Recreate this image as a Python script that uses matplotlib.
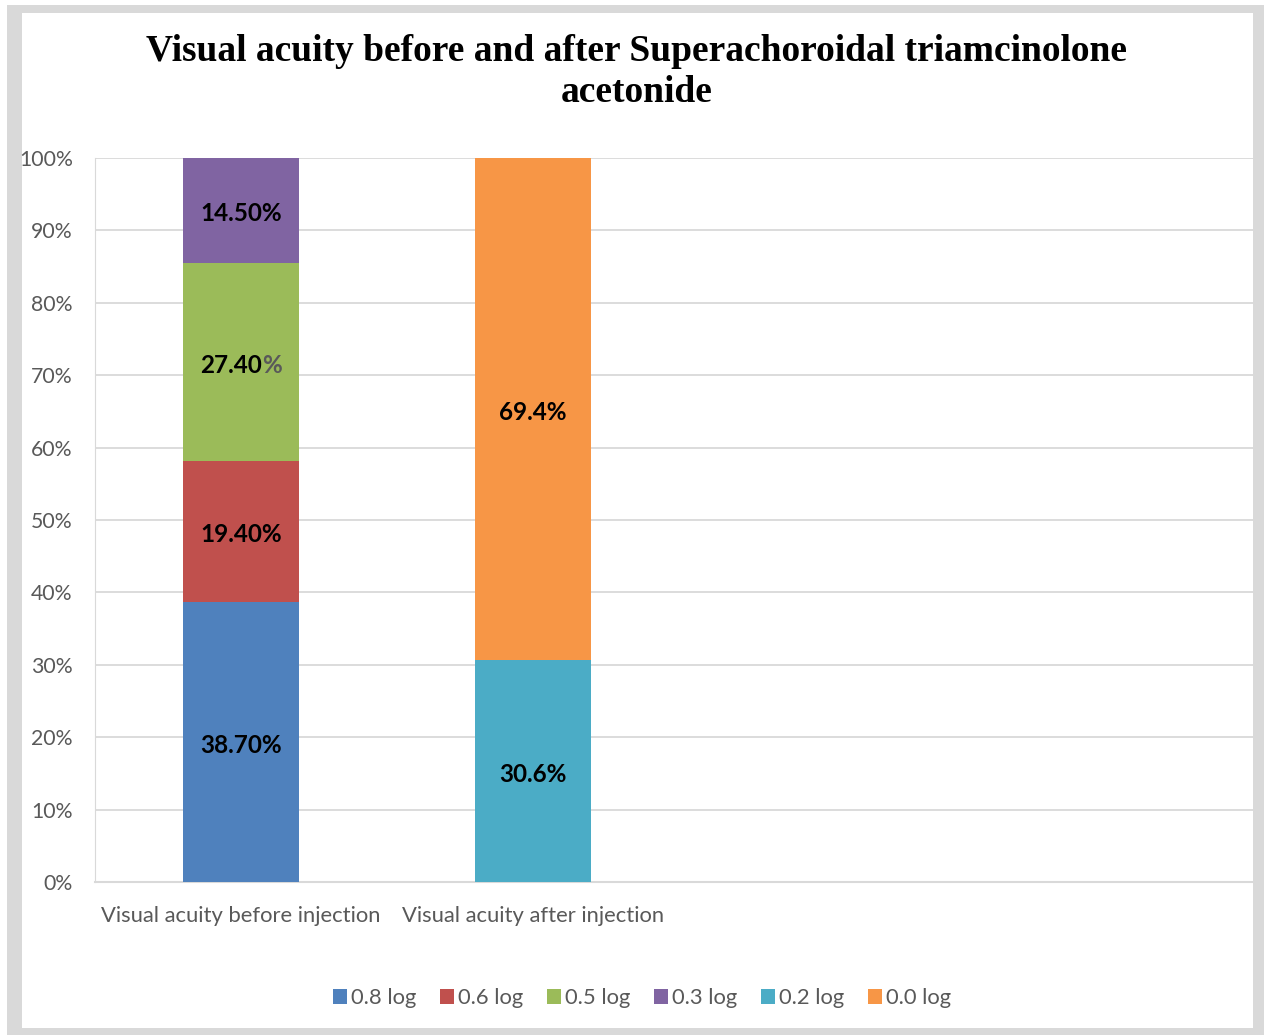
import matplotlib
matplotlib.use("Agg")
import matplotlib.pyplot as plt
from matplotlib.patches import Rectangle
from matplotlib.ticker import PercentFormatter

# data
categories = ["Visual acuity before injection", "Visual acuity after injection", "", ""]
series_names = ["0.8 log", "0.6 log", "0.5 log", "0.3 log", "0.2 log", "0.0 log"]
before_vals = [38.7, 19.4, 27.4, 14.5, 0, 0]
after_vals = [0, 0, 0, 0, 30.6, 69.4]
before_labels = ["38.70%", "19.40%", "27.40%", "14.50%", "", ""]
after_labels = ["", "", "", "", "30.6%", "69.4%"]
colors = ["#4F81BD", "#C0504D", "#9BBB59", "#8064A2", "#4BACC6", "#F79646"]

W, H = 1264, 1035
fig = plt.figure(figsize=(W / 100, H / 100), dpi=100)

# gray frame like the exported chart area
fig.patches.append(Rectangle((7 / W, 0), 1, 1 - 5 / H, transform=fig.transFigure,
                             facecolor="#D9D9D9", edgecolor="none", zorder=-2))
fig.patches.append(Rectangle((22 / W, 7 / H), (1253 - 22) / W, (1028 - 13) / H,
                             transform=fig.transFigure, facecolor="white",
                             edgecolor="none", zorder=-1))

ax = fig.add_axes([95 / W, 1 - 882 / H, (1253 - 95) / W, (882 - 158) / H])
ax.set_facecolor("none")

x = list(range(len(categories)))
width = 0.40
bottoms = [0.0] * len(categories)
for i, name in enumerate(series_names):
    vals = [before_vals[i], after_vals[i], 0, 0]
    ax.bar(x, vals, width, bottom=bottoms, color=colors[i], label=name, zorder=3)
    bottoms = [b + v for b, v in zip(bottoms, vals)]

ax.set_xlim(-0.5, (1253 - 95) / 292 - 0.5)
ax.set_ylim(0, 100)
ax.set_yticks(range(0, 101, 10))
ax.yaxis.set_major_formatter(PercentFormatter(decimals=0))
ax.set_xticks(x[:2])
ax.set_xticklabels(categories[:2])

tick_font = "Lato"
for lab in ax.get_yticklabels():
    lab.set_fontfamily(tick_font)
    lab.set_fontsize(15.3)
    lab.set_color("#595959")
for lab in ax.get_xticklabels():
    lab.set_fontfamily(tick_font)
    lab.set_fontsize(15.8)
    lab.set_color("#595959")
ax.tick_params(axis="y", length=0, pad=16)
ax.tick_params(axis="x", length=0, pad=17)

ax.grid(axis="y", color="#D9D9D9", linewidth=1.3, zorder=0)
for s in ["top", "right"]:
    ax.spines[s].set_visible(False)
ax.spines["left"].set_color("#D9D9D9")
ax.spines["bottom"].set_color("#D9D9D9")
ax.spines["bottom"].set_linewidth(1.5)

# data labels
lab_size = 17.5
fig.canvas.draw()
renderer = fig.canvas.get_renderer()
for col, labels, vals in [(0, before_labels, before_vals), (1, after_labels, after_vals)]:
    base = 0
    for lab, v in zip(labels, vals):
        if v > 0:
            yc = base + v / 2 - 0.45
            if lab == "27.40%":
                # this label's percent sign is gray in the original
                t = ax.text(col, yc, lab, ha="center", va="center", fontsize=lab_size,
                            fontweight="bold", fontfamily=tick_font, alpha=0)
                bb = t.get_window_extent(renderer).transformed(ax.transData.inverted())
                ax.text(bb.x0, yc, lab[:-1], ha="left", va="center", fontsize=lab_size,
                        fontweight="bold", fontfamily=tick_font, zorder=5)
                ax.text(bb.x1, yc, "%", ha="right", va="center", fontsize=lab_size,
                        fontweight="bold", fontfamily=tick_font, color="#595959", zorder=5)
            else:
                ax.text(col, yc, lab, ha="center", va="center", fontsize=lab_size,
                        fontweight="bold", fontfamily=tick_font, zorder=5)
        base += v

fig.text(637 / W, 1 - 72 / H,
         "Visual acuity before and after Superachoroidal triamcinolone\nacetonide",
         ha="center", va="center", fontsize=27, fontweight="bold",
         fontfamily="Liberation Serif", linespacing=1.24)

fig.legend(loc="center", bbox_to_anchor=(642 / W, 1 - 998 / H), ncol=6, frameon=False,
           prop={"family": tick_font, "size": 15.8}, handlelength=0.65, handleheight=0.65,
           handletextpad=0.2, columnspacing=1.05, labelcolor="#595959")

fig.savefig("out.png", dpi=100)
